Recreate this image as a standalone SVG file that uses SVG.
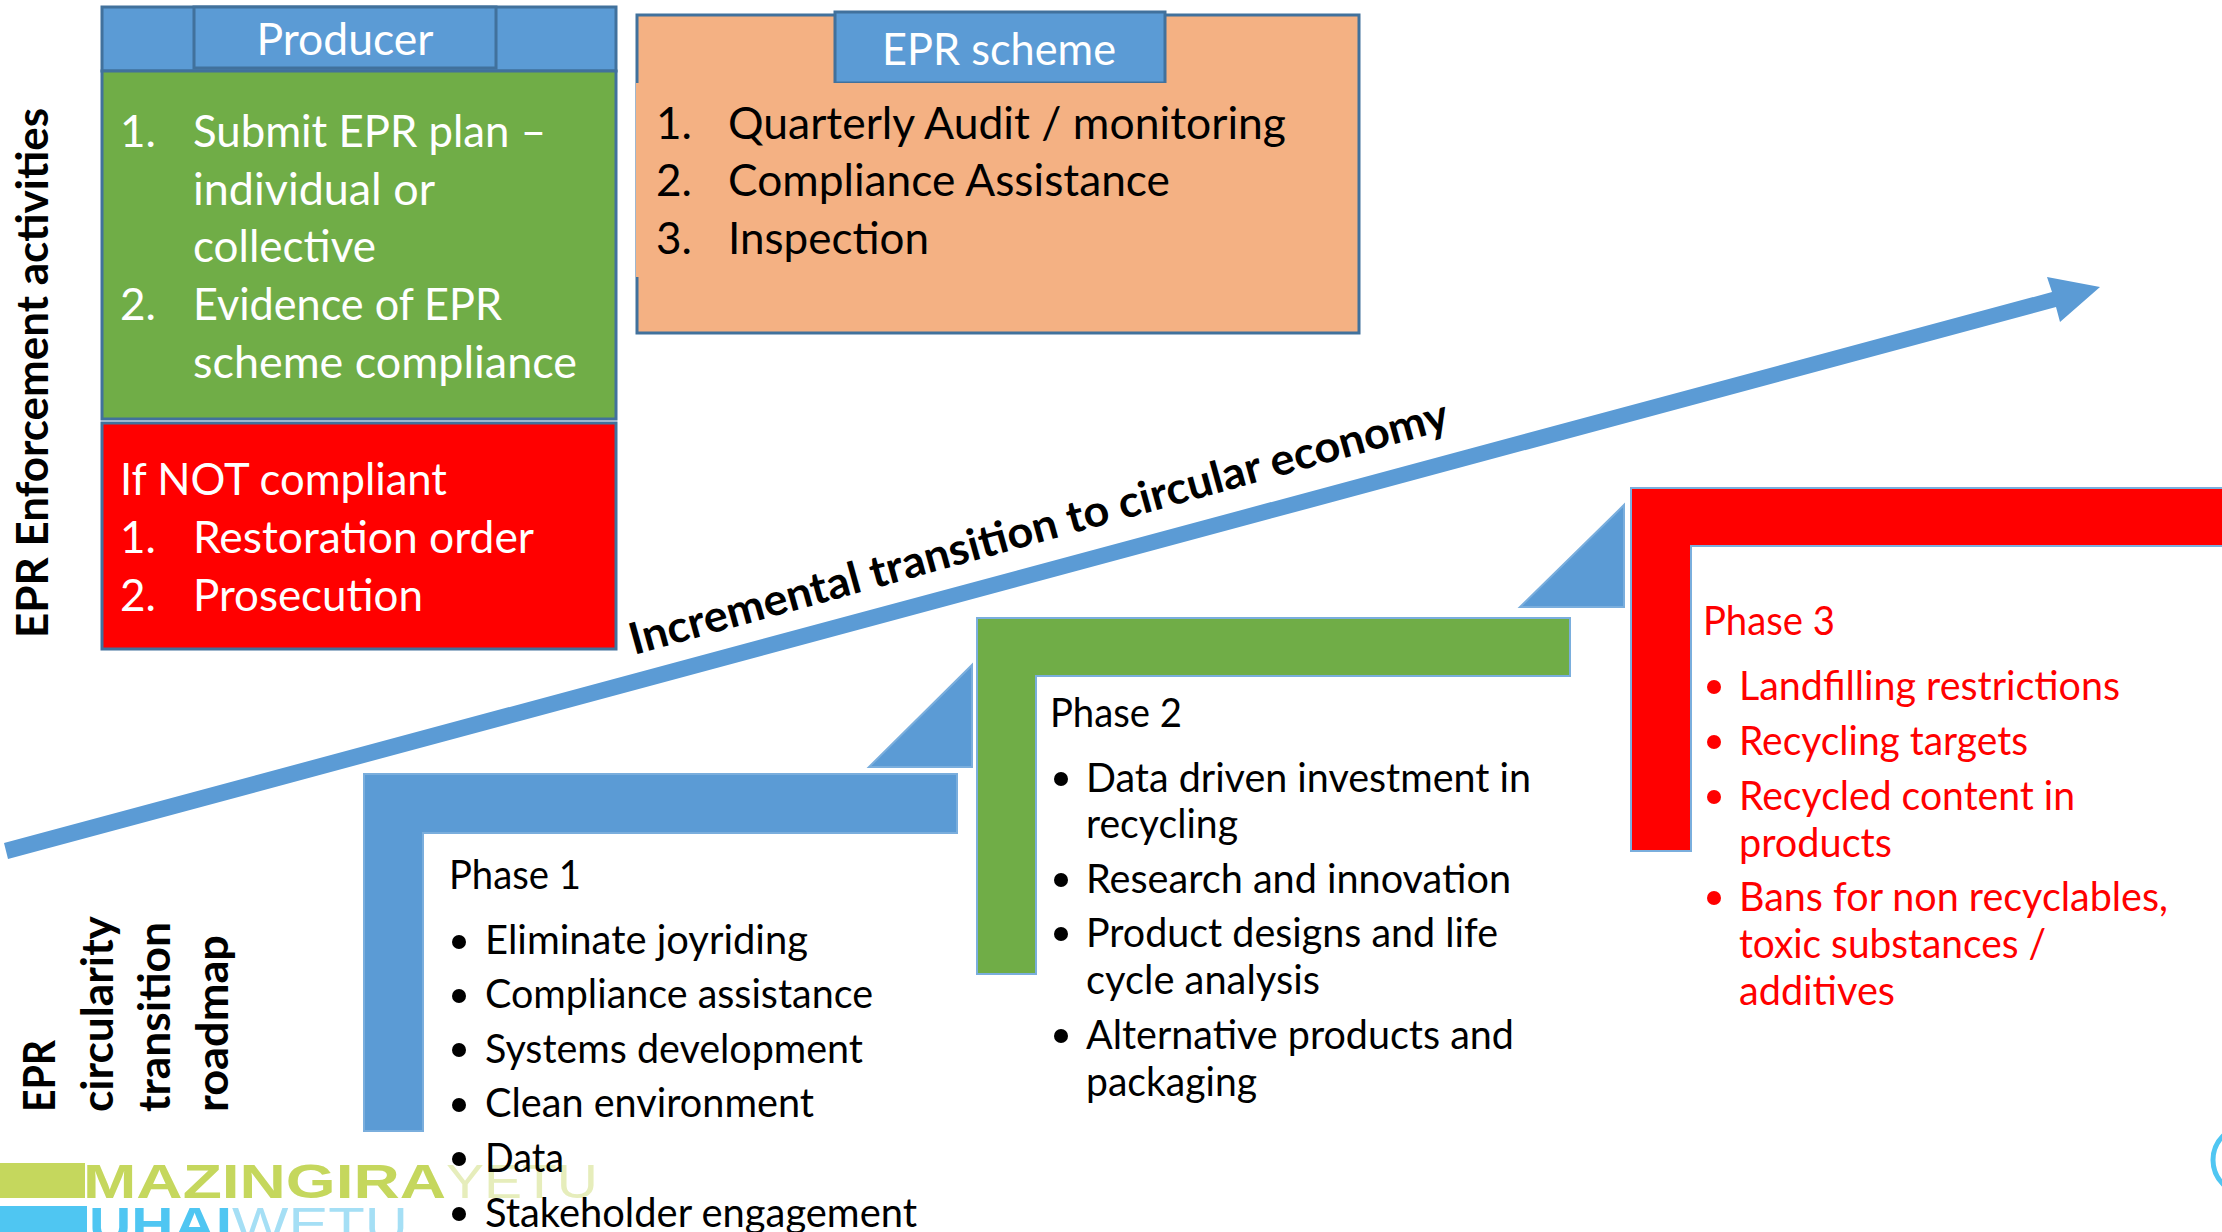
<svg xmlns="http://www.w3.org/2000/svg" width="2222" height="1232" viewBox="0 0 2222 1232">
<style>
text{font-family:Lato,"Open Sans",sans-serif;white-space:pre}
.w{fill:#fff;font-size:44px}
.k{fill:#000;font-size:44px}
.p{fill:#000;font-size:40px}
.r{fill:#f00;font-size:40px}
.b{font-weight:700;font-size:44px;fill:#000}
.logo{font-family:"Liberation Sans",Arial,sans-serif;font-size:49px}
.blue{fill:#5b9bd5}
.edge{stroke:#41719c;stroke-width:3}
.thin{stroke:#7aaedd;stroke-width:2}
</style>
<rect width="2222" height="1232" fill="#fff"/>
<g id="logo">
<rect x="0" y="1163" width="85" height="35" fill="#c5d75d"/>
<rect x="0" y="1206" width="87" height="26" fill="#4fc6f2"/>
<text class="logo" x="83" y="1198" textLength="363" lengthAdjust="spacingAndGlyphs" font-weight="700" fill="#c5d75d">MAZINGIRA</text>
<text class="logo" x="446" y="1198" textLength="152" lengthAdjust="spacingAndGlyphs" fill="#e6edbb">YETU</text>
<text class="logo" x="89" y="1241" textLength="143" lengthAdjust="spacingAndGlyphs" font-weight="700" fill="#4fc6f2">UHAI</text>
<text class="logo" x="232" y="1241" textLength="176" lengthAdjust="spacingAndGlyphs" fill="#a5dff5">WETU</text>
<circle cx="2247" cy="1160" r="34" fill="none" stroke="#4fc6f2" stroke-width="5"/>
</g>
<g id="side-labels">
<text class="b" transform="translate(47.5,638) rotate(-90)" textLength="530" lengthAdjust="spacingAndGlyphs">EPR Enforcement activities</text>
<text class="b" transform="translate(55,1112) rotate(-90)" textLength="72" lengthAdjust="spacingAndGlyphs">EPR</text>
<text class="b" transform="translate(113,1112) rotate(-90)" textLength="196" lengthAdjust="spacingAndGlyphs">circularity</text>
<text class="b" transform="translate(170,1112) rotate(-90)" textLength="190" lengthAdjust="spacingAndGlyphs">transition</text>
<text class="b" transform="translate(228,1112) rotate(-90)" textLength="177" lengthAdjust="spacingAndGlyphs">roadmap</text>
</g>
<g id="producer">
<rect x="102" y="7" width="514" height="64" class="blue edge"/>
<rect x="194" y="7" width="302" height="61" class="blue edge"/>
<text class="w" x="345" y="55" text-anchor="middle" textLength="177" lengthAdjust="spacingAndGlyphs">Producer</text>
<rect x="102" y="71" width="514" height="348" fill="#70ad47" class="edge"/>
<text class="w" x="120" y="147">1.</text><text class="w" x="193" y="147" textLength="353" lengthAdjust="spacingAndGlyphs">Submit EPR plan –</text>
<text class="w" x="193" y="205" textLength="242" lengthAdjust="spacingAndGlyphs">individual or</text>
<text class="w" x="193" y="262" textLength="183" lengthAdjust="spacingAndGlyphs">collective</text>
<text class="w" x="120" y="320">2.</text><text class="w" x="193" y="320" textLength="309" lengthAdjust="spacingAndGlyphs">Evidence of EPR</text>
<text class="w" x="193" y="378" textLength="384" lengthAdjust="spacingAndGlyphs">scheme compliance</text>
<rect x="102" y="423" width="514" height="226" fill="#f00" class="edge"/>
<text class="w" x="120" y="495" textLength="327" lengthAdjust="spacingAndGlyphs">If NOT compliant</text>
<text class="w" x="120" y="553">1.</text><text class="w" x="193" y="553" textLength="341" lengthAdjust="spacingAndGlyphs">Restoration order</text>
<text class="w" x="120" y="611">2.</text><text class="w" x="193" y="611" textLength="230" lengthAdjust="spacingAndGlyphs">Prosecution</text>
</g>
<g id="epr-scheme">
<rect x="637" y="15" width="722" height="318" fill="#f4b183" class="edge"/>
<rect x="835" y="12" width="330" height="71" class="blue edge"/>
<rect x="636" y="83" width="720" height="194" fill="#f4b183"/>
<text class="w" x="999" y="65" text-anchor="middle" textLength="234" lengthAdjust="spacingAndGlyphs">EPR scheme</text>
<text class="k" x="656" y="139">1.</text><text class="k" x="728" y="139" textLength="558" lengthAdjust="spacingAndGlyphs">Quarterly Audit / monitoring</text>
<text class="k" x="656" y="196">2.</text><text class="k" x="728" y="196" textLength="442" lengthAdjust="spacingAndGlyphs">Compliance Assistance</text>
<text class="k" x="656" y="254">3.</text><text class="k" x="728" y="254" textLength="201" lengthAdjust="spacingAndGlyphs">Inspection</text>
</g>
<g id="connectors">
<path class="blue" d="M4 843L2052 292L2047 277L2100 287L2060 322L2056 307L8 859Z"/>
<text class="b" transform="translate(634,655) rotate(-15.5)" textLength="848" lengthAdjust="spacingAndGlyphs">Incremental transition to circular economy</text>
<path class="blue thin" d="M869 767H972V665Z"/>
<path class="blue thin" d="M1520 607H1624V505Z"/>
</g>
<g id="phase-1">
<path class="blue thin" d="M364 774H957V833H423V1131H364Z"/>
<text class="p" x="449" y="889" textLength="132" lengthAdjust="spacingAndGlyphs">Phase 1</text>
<g fill="#000"><circle cx="459" cy="942" r="7"/><circle cx="459" cy="996" r="7"/><circle cx="459" cy="1050" r="7"/><circle cx="459" cy="1105" r="7"/><circle cx="459" cy="1159" r="7"/><circle cx="459" cy="1214" r="7"/></g>
<text class="p" x="485" y="954" textLength="323" lengthAdjust="spacingAndGlyphs">Eliminate joyriding</text>
<text class="p" x="485" y="1008" textLength="388" lengthAdjust="spacingAndGlyphs">Compliance assistance</text>
<text class="p" x="485" y="1063" textLength="378" lengthAdjust="spacingAndGlyphs">Systems development</text>
<text class="p" x="485" y="1117" textLength="329" lengthAdjust="spacingAndGlyphs">Clean environment</text>
<text class="p" x="485" y="1172" textLength="79" lengthAdjust="spacingAndGlyphs">Data</text>
<text class="p" x="485" y="1227" textLength="432" lengthAdjust="spacingAndGlyphs">Stakeholder engagement</text>
</g>
<g id="phase-2">
<path fill="#70ad47" class="thin" d="M977 618H1570V676H1036V974H977Z"/>
<text class="p" x="1050" y="727" textLength="132" lengthAdjust="spacingAndGlyphs">Phase 2</text>
<g fill="#000"><circle cx="1061" cy="779" r="7"/><circle cx="1061" cy="880" r="7"/><circle cx="1061" cy="934" r="7"/><circle cx="1061" cy="1036" r="7"/></g>
<text class="p" x="1086" y="792" textLength="445" lengthAdjust="spacingAndGlyphs">Data driven investment in</text>
<text class="p" x="1086" y="838" textLength="152" lengthAdjust="spacingAndGlyphs">recycling</text>
<text class="p" x="1086" y="893" textLength="425" lengthAdjust="spacingAndGlyphs">Research and innovation</text>
<text class="p" x="1086" y="947" textLength="412" lengthAdjust="spacingAndGlyphs">Product designs and life</text>
<text class="p" x="1086" y="994" textLength="234" lengthAdjust="spacingAndGlyphs">cycle analysis</text>
<text class="p" x="1086" y="1049" textLength="428" lengthAdjust="spacingAndGlyphs">Alternative products and</text>
<text class="p" x="1086" y="1096" textLength="171" lengthAdjust="spacingAndGlyphs">packaging</text>
</g>
<g id="phase-3">
<path fill="#f00" class="thin" d="M1631 488H2224V546H1691V851H1631Z"/>
<text class="r" x="1703" y="635" textLength="132" lengthAdjust="spacingAndGlyphs">Phase 3</text>
<g fill="#f00"><circle cx="1714" cy="687" r="7"/><circle cx="1714" cy="742" r="7"/><circle cx="1714" cy="797" r="7"/><circle cx="1714" cy="898" r="7"/></g>
<text class="r" x="1739" y="700" textLength="381" lengthAdjust="spacingAndGlyphs">Landfilling restrictions</text>
<text class="r" x="1739" y="755" textLength="289" lengthAdjust="spacingAndGlyphs">Recycling targets</text>
<text class="r" x="1739" y="810" textLength="336" lengthAdjust="spacingAndGlyphs">Recycled content in</text>
<text class="r" x="1739" y="857" textLength="153" lengthAdjust="spacingAndGlyphs">products</text>
<text class="r" x="1739" y="911" textLength="429" lengthAdjust="spacingAndGlyphs">Bans for non recyclables,</text>
<text class="r" x="1739" y="958" textLength="307" lengthAdjust="spacingAndGlyphs">toxic substances /</text>
<text class="r" x="1739" y="1005" textLength="156" lengthAdjust="spacingAndGlyphs">additives</text>
</g>
</svg>
